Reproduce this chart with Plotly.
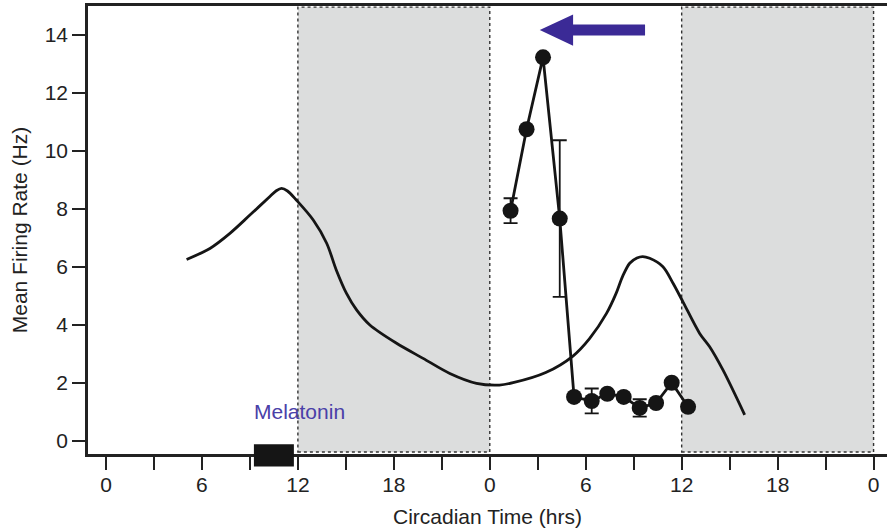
import plotly.graph_objects as go

# ---- data ----
curve_x = [5.04, 6.5, 7.75, 9.0, 10.25, 10.65, 10.98, 11.35, 11.9, 12.96, 13.8, 14.4, 15.04, 15.67, 16.5,
           18.17, 19.83, 21.5, 23.17, 24.6, 25.46, 27.5, 29.2, 30.25, 31.3, 31.9, 32.3,
           32.75, 33.2, 33.56, 34.0, 34.83, 35.46, 36.08, 37.125, 37.75, 38.58, 39.94]
curve_y = [6.26, 6.64, 7.16, 7.79, 8.43, 8.63, 8.71, 8.62, 8.31, 7.62, 6.82, 5.9, 5.09, 4.52, 4.0,
           3.37, 2.85, 2.33, 1.99, 1.93, 2.01, 2.36, 2.93, 3.54, 4.4, 5.09, 5.67,
           6.13, 6.31, 6.36, 6.3, 6.01, 5.44, 4.8, 3.71, 3.25, 2.45, 0.9]

pts_x = [25.3, 26.3, 27.33, 28.375, 29.27, 30.375, 31.35, 32.375, 33.375, 34.4, 35.375, 36.4]
pts_y = [7.94, 10.75, 13.23, 7.67, 1.52, 1.38, 1.63, 1.52, 1.14, 1.31, 2.01, 1.18]
pts_err = [0.43, 0, 0, 2.7, 0, 0.43, 0, 0, 0.3, 0, 0, 0]

night_periods = [(12, 24), (36, 48)]
melatonin_start, melatonin_end = 9.25, 11.75
melatonin_label = "Melatonin"

tick_vals = list(range(0, 49, 3))
tick_text = ["0", "", "6", "", "12", "", "18", "", "0", "", "6", "", "12", "", "18", "", "0"]
y_ticks = [0, 2, 4, 6, 8, 10, 12, 14]

# arrow (shift direction) in data units
arrow_tip_x, arrow_base_x, arrow_end_x, arrow_y = 27.125, 29.21, 33.71, 14.17
arrow_head_half, arrow_shaft_half = 0.54, 0.19

FONT = "Liberation Sans, Arial, Helvetica, sans-serif"
INK = "#151515"

fig = go.Figure()

fig.add_trace(go.Scatter(x=curve_x, y=curve_y, mode="lines",
                         line=dict(color=INK, width=2.8, shape="spline", smoothing=0.9),
                         hoverinfo="skip", showlegend=False))

fig.add_trace(go.Scatter(x=pts_x, y=pts_y, mode="lines+markers",
                         line=dict(color=INK, width=2.8),
                         marker=dict(color=INK, size=16, line=dict(width=0)),
                         error_y=dict(type="data", array=pts_err, visible=True,
                                      color=INK, thickness=1.8, width=7),
                         showlegend=False))

shapes = []
for a, b in night_periods:
    shapes.append(dict(type="rect", xref="x", yref="y", x0=a, x1=b, y0=-0.38, y1=14.96,
                       fillcolor="#dcdddd", line=dict(color="#333333", width=1.4, dash="dot"),
                       layer="below"))
shapes.append(dict(type="rect", xref="x", yref="paper", x0=melatonin_start, x1=melatonin_end,
                   y0=-0.028, y1=0.022, fillcolor=INK, line=dict(width=0), layer="above"))
ah, sh = arrow_head_half, arrow_shaft_half
path = (f"M {arrow_tip_x},{arrow_y} L {arrow_base_x},{arrow_y + ah} L {arrow_base_x},{arrow_y + sh} "
        f"L {arrow_end_x},{arrow_y + sh} L {arrow_end_x},{arrow_y - sh} L {arrow_base_x},{arrow_y - sh} "
        f"L {arrow_base_x},{arrow_y - ah} Z")
shapes.append(dict(type="path", xref="x", yref="y", path=path, fillcolor="#3b2a96",
                   line=dict(width=0), layer="above"))

fig.update_layout(
    width=887, height=532,
    margin=dict(l=88, r=0, t=6, b=78),
    paper_bgcolor="white", plot_bgcolor="white",
    template="none",
    font=dict(family=FONT, size=21, color="#222222"),
    shapes=shapes,
    annotations=[dict(x=12.1, y=1.03, xref="x", yref="y", text=melatonin_label, showarrow=False,
                      font=dict(family=FONT, size=21, color="#4a40a8"))],
    xaxis=dict(range=[-1.125, 48.84], tickmode="array", tickvals=tick_vals, ticktext=tick_text,
               ticks="outside", ticklen=13, tickwidth=2.2, tickcolor="#222222",
               showline=True, linewidth=2.6, linecolor="#222222", mirror=True,
               showgrid=False, zeroline=False, automargin=False,
               tickfont=dict(size=21), ticklabelstandoff=-3,
               title=dict(text="Circadian Time (hrs)", font=dict(size=21), standoff=15)),
    yaxis=dict(range=[-0.448, 15.0], tickmode="array", tickvals=y_ticks,
               ticks="outside", ticklen=13, tickwidth=2.2, tickcolor="#222222",
               showline=True, linewidth=2.6, linecolor="#222222",
               showgrid=False, zeroline=False, automargin=False,
               tickfont=dict(size=21),
               title=dict(text="Mean Firing Rate (Hz)", font=dict(size=21), standoff=12)),
)

fig.write_html("out.html", config={"displayModeBar": False},
               post_script="document.body.style.margin='0';document.body.style.overflow='hidden';")
